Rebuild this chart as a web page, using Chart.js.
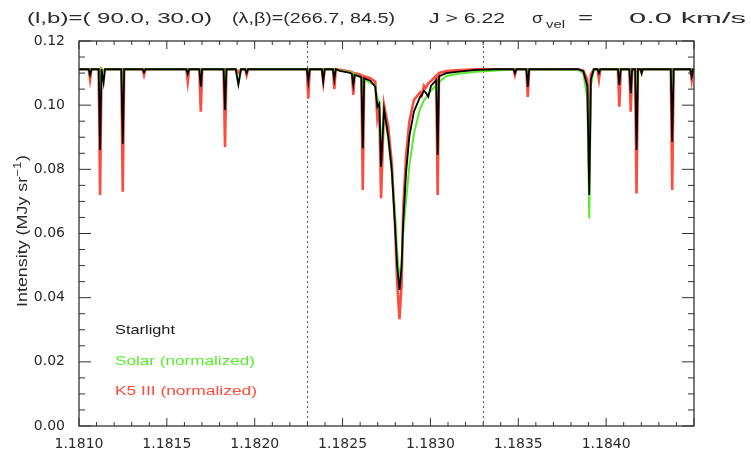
<!DOCTYPE html>
<html>
<head>
<meta charset="utf-8">
<script src="https://cdn.jsdelivr.net/npm/chart.js@4.4.0/dist/chart.umd.min.js"></script>
<style>
  html, body { margin: 0; padding: 0; background: #fff; }
  canvas { display: block; }
</style>
</head>
<body>
<canvas id="spectrum" width="751" height="458"></canvas>
<script>
// wavelength grid (micron), shared by the three spectra
const wavelength = [
  1.181000,
  1.181055, 1.181063, 1.181071,
  1.181112, 1.181120, 1.181128,
  1.181140, 1.181148,
  1.181241, 1.181249, 1.181257,
  1.181362, 1.181370, 1.181378,
  1.181611, 1.181619, 1.181627,
  1.181685, 1.181693, 1.181701,
  1.181823, 1.181831, 1.181839,
  1.181892, 1.181907, 1.181922,
  1.181946, 1.181954, 1.181962,
  1.182297, 1.182305, 1.182313,
  1.182382, 1.182390, 1.182398,
  1.182445, 1.182453, 1.182461,
  1.182485, 1.182542,
  1.182553, 1.182561, 1.182569,
  1.182599,
  1.182607, 1.182615, 1.182623,
  1.182658, 1.182686, 1.182698, 1.182709, 1.182719,
  1.182736, 1.182760, 1.182780, 1.182798, 1.182811, 1.182824, 1.182836, 1.182845, 1.182861, 1.182880, 1.182906,
  1.182941, 1.182950, 1.182963, 1.182972, 1.182988, 1.183003,
  1.183033, 1.183041, 1.183049,
  1.183090, 1.183147, 1.183261, 1.183375,
  1.183473, 1.183481, 1.183489,
  1.183546, 1.183554, 1.183562,
  1.183840, 1.183870, 1.183893, 1.183904, 1.183913, 1.183930,
  1.183951, 1.183959, 1.183967,
  1.184067, 1.184075, 1.184083,
  1.184132, 1.184140, 1.184148,
  1.184165, 1.184173, 1.184181,
  1.184196, 1.184202, 1.184208,
  1.184368, 1.184376, 1.184384,
  1.184479, 1.184487, 1.184495,
  1.184510
];

// intensities, MJy/sr
const starlight = [
  0.1112,
  0.1112, 0.1094, 0.1112,
  0.1112, 0.0860, 0.1112,
  0.1070, 0.1112,
  0.1112, 0.0880, 0.1112,
  0.1112, 0.1103, 0.1112,
  0.1112, 0.1097, 0.1112,
  0.1112, 0.1058, 0.1112,
  0.1112, 0.0985, 0.1112,
  0.1112, 0.1065, 0.1112,
  0.1112, 0.1100, 0.1112,
  0.1112, 0.1073, 0.1112,
  0.1112, 0.1073, 0.1112,
  0.1112, 0.1080, 0.1112,
  0.1107, 0.1101,
  0.1098, 0.1063, 0.1094,
  0.1089,
  0.1087, 0.0866, 0.1084,
  0.1076, 0.1058, 0.0995, 0.1005, 0.0808,
  0.0987, 0.0902, 0.0798, 0.0632, 0.0497, 0.0424, 0.0497, 0.0632, 0.0788, 0.0902, 0.0980,
  0.1026, 0.1030, 0.1045, 0.1040, 0.1026, 0.1060,
  0.1078, 0.0845, 0.1090,
  0.1100, 0.1104, 0.1110, 0.1112,
  0.1112, 0.1100, 0.1112,
  0.1112, 0.1058, 0.1112,
  0.1112, 0.1106, 0.1060, 0.0720, 0.1080, 0.1112,
  0.1112, 0.1100, 0.1112,
  0.1112, 0.1063, 0.1112,
  0.1112, 0.1037, 0.1112,
  0.1112, 0.0860, 0.1112,
  0.1112, 0.1100, 0.1112,
  0.1112, 0.0886, 0.1112,
  0.1112, 0.1090, 0.1112,
  0.1112
];

const solar = [
  0.1112,
  0.1112, 0.1095, 0.1112,
  0.1112, 0.1020, 0.1112,
  0.1105, 0.1112,
  0.1112, 0.1045, 0.1112,
  0.1112, 0.1108, 0.1112,
  0.1112, 0.1102, 0.1112,
  0.1112, 0.1100, 0.1112,
  0.1112, 0.1080, 0.1112,
  0.1112, 0.1065, 0.1112,
  0.1112, 0.1108, 0.1112,
  0.1112, 0.1105, 0.1112,
  0.1112, 0.1090, 0.1112,
  0.1112, 0.1100, 0.1112,
  0.1108, 0.1103,
  0.1101, 0.1080, 0.1097,
  0.1088,
  0.1085, 0.1010, 0.1080,
  0.1070, 0.1060, 0.1020, 0.1008, 0.0860,
  0.0985, 0.0890, 0.0790, 0.0670, 0.0540, 0.0460, 0.0510, 0.0600, 0.0700, 0.0810, 0.0910,
  0.0990, 0.0998, 0.1015, 0.1020, 0.1035, 0.1045,
  0.1062, 0.1000, 0.1072,
  0.1090, 0.1097, 0.1104, 0.1108,
  0.1112, 0.1108, 0.1112,
  0.1112, 0.1100, 0.1112,
  0.1110, 0.1100, 0.1020, 0.0647, 0.1060, 0.1108,
  0.1112, 0.1105, 0.1112,
  0.1112, 0.1100, 0.1112,
  0.1112, 0.1090, 0.1112,
  0.1112, 0.1020, 0.1112,
  0.1112, 0.1100, 0.1112,
  0.1112, 0.1047, 0.1112,
  0.1112, 0.1105, 0.1112,
  0.1112
];

const k5iii = [
  0.1112,
  0.1112, 0.1080, 0.1112,
  0.1112, 0.0720, 0.1112,
  0.1105, 0.1112,
  0.1112, 0.0730, 0.1112,
  0.1112, 0.1094, 0.1112,
  0.1112, 0.1073, 0.1112,
  0.1112, 0.0980, 0.1112,
  0.1112, 0.0870, 0.1112,
  0.1112, 0.1102, 0.1112,
  0.1112, 0.1094, 0.1112,
  0.1112, 0.1020, 0.1112,
  0.1112, 0.1073, 0.1112,
  0.1112, 0.1050, 0.1112,
  0.1110, 0.1105,
  0.1103, 0.1032, 0.1100,
  0.1096,
  0.1094, 0.0736, 0.1090,
  0.1084, 0.1073, 0.0960, 0.0995, 0.0710,
  0.1001, 0.0933, 0.0819, 0.0632, 0.0445, 0.0333, 0.0445, 0.0673, 0.0839, 0.0949, 0.1016,
  0.1040, 0.1030, 0.1060, 0.1053, 0.1068, 0.1075,
  0.1092, 0.0720, 0.1100,
  0.1106, 0.1109, 0.1112, 0.1112,
  0.1112, 0.1094, 0.1112,
  0.1112, 0.1026, 0.1112,
  0.1112, 0.1108, 0.1080, 0.0803, 0.1095, 0.1112,
  0.1112, 0.1080, 0.1112,
  0.1112, 0.0995, 0.1112,
  0.1112, 0.0980, 0.1112,
  0.1112, 0.0725, 0.1112,
  0.1112, 0.1100, 0.1112,
  0.1112, 0.0736, 0.1112,
  0.1112, 0.1078, 0.1112,
  0.1112
];

const seriesNames = ['Starlight', 'Solar (normalized)', 'K5 III (normalized)'];
const xTickLabels = ['1.1810', '1.1815', '1.1820', '1.1825', '1.1830', '1.1835', '1.1840'];
const yTickLabels = ['0.00', '0.02', '0.04', '0.06', '0.08', '0.10', '0.12'];
const yTitleParts = ['Intensity (MJy sr', '\u22121', ')'];
const markerLines = [1.1823, 1.1833];
const titleParts = ['(l,b)=( 90.0, 30.0)', '(\u03bb,\u03b2)=(266.7, 84.5)', 'J > 6.22', '\u03c3', 'vel', '=', '0.0 km/s'];

const FONT = '"Liberation Sans", Arial, sans-serif';
const TICKFONT = '"DejaVu Sans", sans-serif';
const INK = '#2a2a2a';
const GREEN = '#58ec2c';
const RED = '#ff4b3c';

function toPoints(ys) {
  return wavelength.map((w, i) => ({ x: w, y: ys[i] }));
}

// draw text squeezed/stretched to span x0..x1
function fitText(ctx, text, x0, x1, y, font, color) {
  ctx.save();
  ctx.font = font;
  ctx.fillStyle = color;
  ctx.textBaseline = 'middle';
  ctx.textAlign = 'left';
  const w = ctx.measureText(text).width;
  ctx.translate(x0, y);
  ctx.scale((x1 - x0) / w, 1);
  ctx.fillText(text, 0, 0);
  ctx.restore();
}

function drawYTitle(ctx) {
  ctx.save();
  ctx.translate(23, 307);
  ctx.rotate(-Math.PI / 2);
  ctx.fillStyle = INK;
  ctx.textBaseline = 'middle';
  const big = '14px ' + FONT, small = '10px ' + FONT;
  ctx.font = big;
  const w1 = ctx.measureText(yTitleParts[0]).width;
  const w3 = ctx.measureText(yTitleParts[2]).width;
  ctx.font = small;
  const w2 = ctx.measureText(yTitleParts[1]).width;
  ctx.scale(152 / (w1 + w2 + w3 + 1), 1);
  ctx.font = big;
  ctx.fillText(yTitleParts[0], 0, 0);
  ctx.font = small;
  ctx.fillText(yTitleParts[1], w1 + 0.5, -5);
  ctx.font = big;
  ctx.fillText(yTitleParts[2], w1 + w2 + 1, 0);
  ctx.restore();
}

const framePlugin = {
  id: 'frame',
  beforeDatasetsDraw(chart) {
    const { ctx, chartArea: a, scales: { x } } = chart;
    ctx.save();
    ctx.strokeStyle = '#555';
    ctx.lineWidth = 1;
    ctx.setLineDash([2, 3]);
    markerLines.forEach(v => {
      const px = Math.round(x.getPixelForValue(v)) + 0.5;
      ctx.beginPath();
      ctx.moveTo(px, a.top);
      ctx.lineTo(px, a.bottom);
      ctx.stroke();
    });
    ctx.restore();
  },
  afterDraw(chart) {
    const { ctx, chartArea: a, scales: { x, y } } = chart;
    ctx.save();
    ctx.strokeStyle = '#333';
    ctx.lineWidth = 1.3;
    ctx.strokeRect(a.left, a.top, a.right - a.left, a.bottom - a.top);

    // inward ticks on all four sides, minor every 0.0001 / 0.005
    ctx.lineWidth = 1;
    ctx.beginPath();
    for (let i = 0; i <= 35; i++) {
      const px = x.getPixelForValue(1.1810 + i * 0.0001);
      const len = i % 5 === 0 ? 8 : 4;
      ctx.moveTo(px, a.bottom); ctx.lineTo(px, a.bottom - len);
      ctx.moveTo(px, a.top); ctx.lineTo(px, a.top + len);
    }
    for (let i = 0; i <= 24; i++) {
      const py = y.getPixelForValue(i * 0.005);
      const len = i % 4 === 0 ? 12 : 6;
      ctx.moveTo(a.left, py); ctx.lineTo(a.left + len, py);
      ctx.moveTo(a.right, py); ctx.lineTo(a.right - len, py);
    }
    ctx.stroke();

    // title line
    const tf = '15px ' + FONT;
    fitText(ctx, titleParts[0], 27, 212, 19, tf, INK);
    fitText(ctx, titleParts[1], 232, 395, 19, tf, INK);
    fitText(ctx, titleParts[2], 429, 505, 19, tf, INK);
    fitText(ctx, titleParts[3], 532, 543, 19, tf, INK);
    fitText(ctx, titleParts[4], 546, 565, 25, '10px ' + FONT, INK);
    fitText(ctx, titleParts[5], 578, 593, 19, tf, INK);
    fitText(ctx, titleParts[6], 629, 746, 19, tf, INK);

    drawYTitle(ctx);

    // legend text inside the plot
    const lf = '13px ' + FONT;
    fitText(ctx, seriesNames[0], 115, 175, 330, lf, '#1a1a1a');
    fitText(ctx, seriesNames[1], 115, 255, 361, lf, GREEN);
    fitText(ctx, seriesNames[2], 115, 257, 391, lf, RED);
    ctx.restore();
  }
};

new Chart(document.getElementById('spectrum'), {
  type: 'line',
  data: {
    datasets: [
      { label: seriesNames[0], data: toPoints(starlight), borderColor: '#000', borderWidth: 1.8 },
      { label: seriesNames[1], data: toPoints(solar), borderColor: GREEN, borderWidth: 2 },
      { label: seriesNames[2], data: toPoints(k5iii), borderColor: RED, borderWidth: 2.6 }
    ]
  },
  options: {
    responsive: false,
    animation: false,
    devicePixelRatio: 1,
    elements: { point: { radius: 0 }, line: { tension: 0 } },
    layout: { padding: { top: 41, right: 57, bottom: 0, left: 0 } },
    plugins: { legend: { display: false }, tooltip: { enabled: false } },
    scales: {
      x: {
        type: 'linear',
        min: 1.1810,
        max: 1.1845,
        grid: { display: false },
        border: { display: false },
        ticks: {
          stepSize: 0.0005,
          autoSkip: false,
          maxRotation: 0,
          padding: 2,
          color: INK,
          font: { family: TICKFONT, size: 14 },
          callback: (v, i) => xTickLabels[i] ?? ''
        },
        afterFit: s => { s.height = 32; }
      },
      y: {
        min: 0,
        max: 0.12,
        grid: { display: false },
        border: { display: false },
        ticks: {
          stepSize: 0.02,
          padding: 6,
          color: INK,
          font: { family: TICKFONT, size: 14 },
          callback: (v, i) => yTickLabels[i] ?? ''
        },
        afterFit: s => { s.width = 79; }
      }
    }
  },
  plugins: [framePlugin]
});
</script>
</body>
</html>
